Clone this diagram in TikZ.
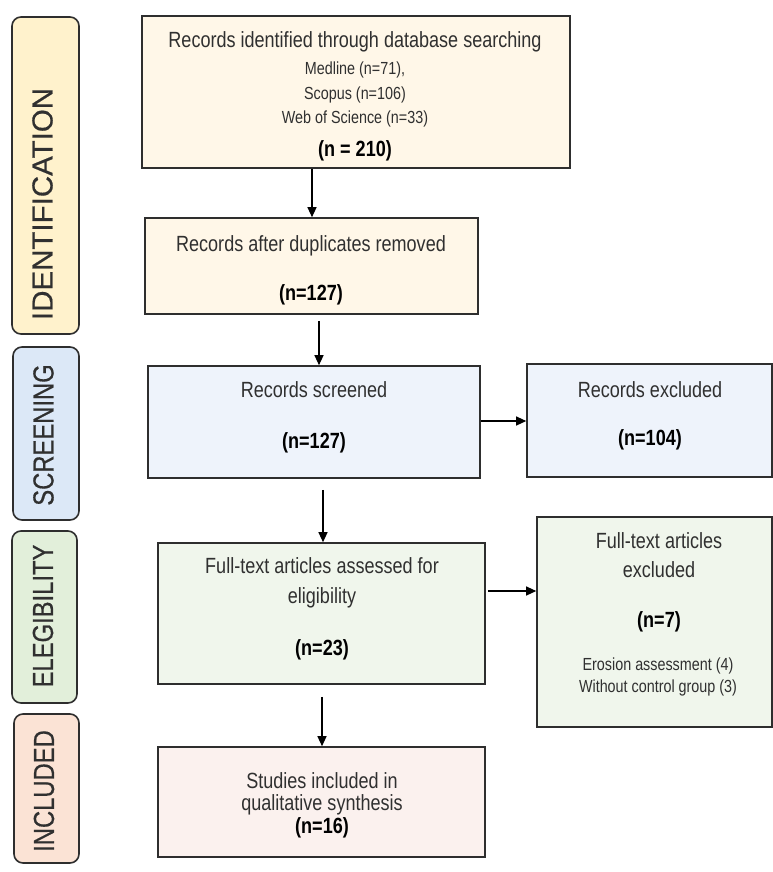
\documentclass[tikz,border=0pt]{standalone}
\usepackage{fontspec}
\setmainfont{Liberation Sans}[FakeStretch=0.82]
\newfontfamily\sidefont{Liberation Sans}[FakeStretch=0.82,FakeBold=0.4]
\usetikzlibrary{arrows.meta,calc}
\definecolor{txt}{HTML}{303030}
\definecolor{bord}{HTML}{2E2E2E}
\definecolor{idside}{HTML}{FFF2CC}
\definecolor{idbox}{HTML}{FFF7E8}
\definecolor{scside}{HTML}{DCE8F7}
\definecolor{scbox}{HTML}{EEF3FB}
\definecolor{elside}{HTML}{E2EFDA}
\definecolor{elbox}{HTML}{F0F6EC}
\definecolor{inside}{HTML}{FBE3D5}
\definecolor{inbox}{HTML}{FBF1EE}
\tikzset{
  box/.style={draw=bord, line width=1.6pt, inner sep=0pt},
  side/.style={draw=bord, line width=1.6pt, rounded corners=9pt, inner sep=0pt},
  maintxt/.style={anchor=base, inner sep=0pt, text=txt, font=\fontsize{22}{26}\selectfont},
  smalltxt/.style={anchor=base, inner sep=0pt, text=txt, font=\fontsize{17.5}{21}\selectfont},
  ntxt/.style={anchor=base, inner sep=0pt, text=black, font=\fontsize{22}{26}\selectfont\bfseries},
  sidetxt/.style={rotate=90, anchor=center, inner sep=0pt, text=txt, font=\sidefont\fontsize{29}{33}\selectfont},
  arr/.style={draw=black, line width=1.2pt, -{Triangle[length=10pt,width=9pt]}}
}
\begin{document}
\begin{tikzpicture}[x=1pt,y=-1pt]
\useasboundingbox (0,0) rectangle (773,872);
% side labels
\node[side, fill=idside, minimum width=67pt, minimum height=317pt] (s1) at (45.5,175.5) {};
\node[side, fill=scside, minimum width=66pt, minimum height=173pt] (s2) at (46,433.5) {};
\node[side, fill=elside, minimum width=65pt, minimum height=172pt] (s3) at (44.5,617) {};
\node[side, fill=inside, minimum width=65pt, minimum height=149pt] (s4) at (46.5,788.5) {};
\node[sidetxt] (t1) at (42.5,204) {\scalebox{1.24}[1]{IDENTIFICATION}};
\node[sidetxt] (t2) at (43.5,435) {SCREENING};
\node[sidetxt] (t3) at (43,616) {ELEGIBILITY};
\node[sidetxt] (t4) at (44,791) {INCLUDED};
% boxes
\node[box, fill=idbox, minimum width=428pt, minimum height=152pt] (b1) at (356,92) {};
\node[box, fill=idbox, minimum width=333pt, minimum height=96pt] (b2) at (311.5,266) {};
\node[box, fill=scbox, minimum width=332pt, minimum height=112pt] (b3) at (314,422) {};
\node[box, fill=scbox, minimum width=245pt, minimum height=113pt] (b4) at (649.5,420.5) {};
\node[box, fill=elbox, minimum width=327pt, minimum height=141pt] (b5) at (321.5,613.5) {};
\node[box, fill=elbox, minimum width=235pt, minimum height=210pt] (b6) at (654.5,622) {};
\node[box, fill=inbox, minimum width=327pt, minimum height=110pt] (b7) at (321.5,802) {};
% texts
\node[maintxt] (x11) at (355,48) {Records identified through database searching};
\node[smalltxt] (x12) at (355,75) {Medline (n=71),};
\node[smalltxt] (x13) at (355,100) {Scopus (n=106)};
\node[smalltxt] (x14) at (355,124) {Web of Science (n=33)};
\node[ntxt] (x15) at (355,156) {(n = 210)};
\node[maintxt] (x21) at (311,251) {Records after duplicates removed};
\node[ntxt] (x22) at (311,300) {(n=127)};
\node[maintxt] (x31) at (314,397) {Records screened};
\node[ntxt] (x32) at (314,448) {(n=127)};
\node[maintxt] (x41) at (650,397) {Records excluded};
\node[ntxt] (x42) at (650,445) {(n=104)};
\node[maintxt] (x51) at (322,573) {Full-text articles assessed for};
\node[maintxt] (x52) at (322,603) {eligibility};
\node[ntxt] (x53) at (322,655) {(n=23)};
\node[maintxt] (x61) at (659,548) {Full-text articles};
\node[maintxt] (x62) at (659,577) {excluded};
\node[ntxt] (x63) at (659,627) {(n=7)};
\node[smalltxt] (x64) at (658,670) {Erosion assessment (4)};
\node[smalltxt] (x65) at (658,692) {Without control group (3)};
\node[maintxt] (x71) at (322,788) {Studies included in};
\node[maintxt] (x72) at (322,810) {qualitative synthesis};
\node[ntxt] (x73) at (322,833) {(n=16)};
% arrows
\coordinate (c1) at (312,0);
\coordinate (c2) at (319,0);
\coordinate (c3) at (323,0);
\coordinate (c4) at (322,0);
\coordinate (r1) at (0,421);
\coordinate (r2) at (0,591);
\draw[arr] (b1.south -| c1) -- (b2.north -| c1);
\draw[arr] ($(b2.south -| c2)+(0,6)$) -- (b3.north -| c2);
\draw[arr] ($(b3.south -| c3)+(0,11)$) -- (b5.north -| c3);
\draw[arr] ($(b5.south -| c4)+(0,12)$) -- (b7.north -| c4);
\draw[arr] (b3.east |- r1) -- (b4.west |- r1);
\draw[arr] ($(b5.east |- r2)+(2,0)$) -- (b6.west |- r2);
\end{tikzpicture}
\end{document}
